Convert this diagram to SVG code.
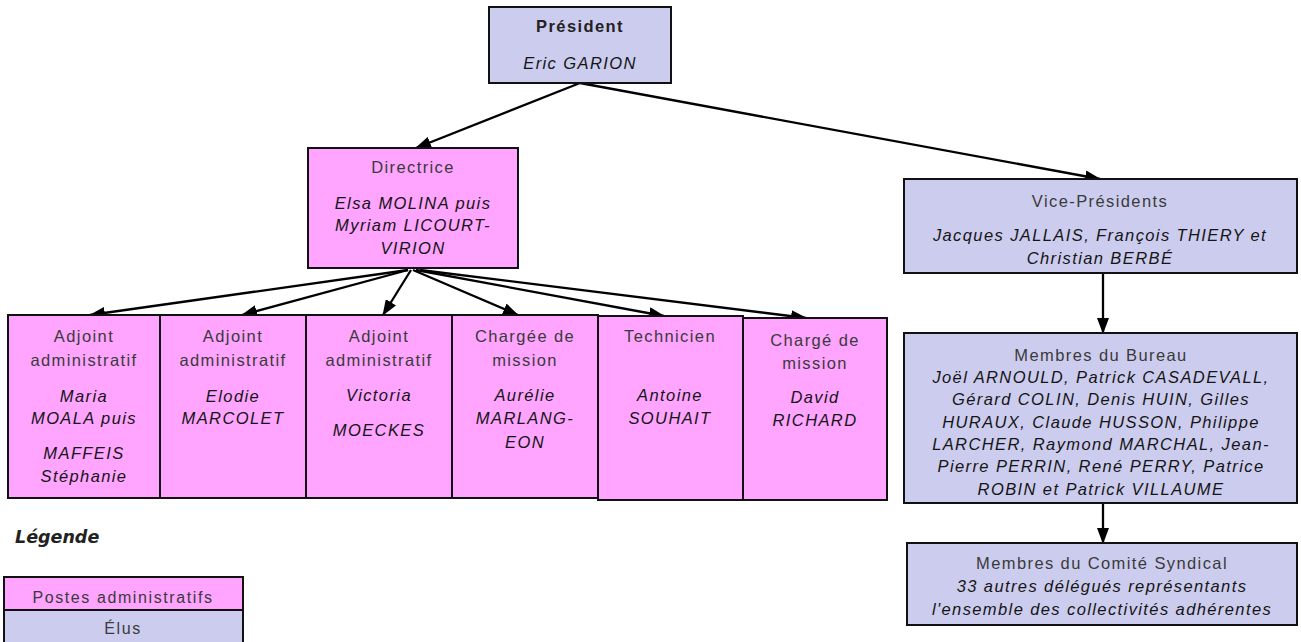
<svg xmlns="http://www.w3.org/2000/svg" width="1301" height="642" viewBox="0 0 1301 642">
<defs>
<marker id="ah" markerUnits="userSpaceOnUse" markerWidth="16" markerHeight="12" refX="15" refY="6" orient="auto">
<path d="M0,0 L16,6 L0,12 Z" fill="#000"/>
</marker>
<style>
.adm{fill:#ffa4ff;stroke:#111;stroke-width:2}
.elu{fill:#ccccee;stroke:#111;stroke-width:2}
.t{font-family:"Liberation Sans",Arial,sans-serif;font-size:16.5px;letter-spacing:1.4px;fill:#3a3a3a;text-anchor:middle}
.n{font-family:"Liberation Sans",Arial,sans-serif;font-size:16.5px;letter-spacing:1.4px;fill:#151515;font-style:italic;text-anchor:middle}
.b{font-weight:bold;fill:#222}
.c{stroke:#000;stroke-width:2.3;fill:none;marker-end:url(#ah)}
</style>
</defs>
<rect width="1301" height="642" fill="#fff"/>

<g id="connectors">
<line class="c" x1="580" y1="83" x2="416" y2="148"/>
<line class="c" x1="580" y1="83" x2="1100" y2="179"/>
<line class="c" x1="408" y1="270" x2="90" y2="315"/>
<line class="c" x1="408" y1="270" x2="242" y2="315"/>
<line class="c" x1="411" y1="270" x2="383" y2="315"/>
<line class="c" x1="413" y1="270" x2="518" y2="315"/>
<line class="c" x1="416" y1="270" x2="664" y2="316"/>
<line class="c" x1="420" y1="270" x2="806" y2="318"/>
<line class="c" x1="1103" y1="273" x2="1103" y2="333"/>
<line class="c" x1="1103" y1="503" x2="1103" y2="543"/>
</g>

<g id="president">
<rect class="elu" x="489" y="7" width="182" height="76"/>
<text class="t b" x="580" y="32">Président</text>
<text class="n" x="580" y="69">Eric GARION</text>
</g>

<g id="directrice">
<rect class="adm" x="308" y="148" width="210" height="120"/>
<text class="t" x="413" y="173">Directrice</text>
<text class="n" x="413" y="209">Elsa MOLINA puis</text>
<text class="n" x="413" y="231">Myriam LICOURT-</text>
<text class="n" x="413" y="254">VIRION</text>
</g>

<g id="adjoint1">
<rect class="adm" x="8" y="315" width="152" height="183"/>
<text class="t" x="84" y="342">Adjoint</text>
<text class="t" x="84" y="366">administratif</text>
<text class="n" x="84" y="402">Maria</text>
<text class="n" x="84" y="424">MOALA puis</text>
<text class="n" x="84" y="459">MAFFEIS</text>
<text class="n" x="84" y="482">Stéphanie</text>
</g>

<g id="adjoint2">
<rect class="adm" x="160" y="315" width="146" height="183"/>
<text class="t" x="233" y="342">Adjoint</text>
<text class="t" x="233" y="366">administratif</text>
<text class="n" x="233" y="402">Elodie</text>
<text class="n" x="233" y="424">MARCOLET</text>
</g>

<g id="adjoint3">
<rect class="adm" x="306" y="315" width="146" height="183"/>
<text class="t" x="379" y="342">Adjoint</text>
<text class="t" x="379" y="366">administratif</text>
<text class="n" x="379" y="401">Victoria</text>
<text class="n" x="379" y="436">MOECKES</text>
</g>

<g id="chargee">
<rect class="adm" x="452" y="315" width="146" height="183"/>
<text class="t" x="525" y="342">Chargée de</text>
<text class="t" x="525" y="366">mission</text>
<text class="n" x="525" y="401">Aurélie</text>
<text class="n" x="525" y="424">MARLANG-</text>
<text class="n" x="525" y="448">EON</text>
</g>

<g id="technicien">
<rect class="adm" x="598" y="316" width="145" height="184"/>
<text class="t" x="670" y="342">Technicien</text>
<text class="n" x="670" y="401">Antoine</text>
<text class="n" x="670" y="424">SOUHAIT</text>
</g>

<g id="charge">
<rect class="adm" x="743" y="318" width="144" height="182"/>
<text class="t" x="815" y="346">Chargé de</text>
<text class="t" x="815" y="369">mission</text>
<text class="n" x="815" y="403">David</text>
<text class="n" x="815" y="426">RICHARD</text>
</g>

<g id="vice-presidents">
<rect class="elu" x="904" y="179" width="393" height="94"/>
<text class="t" x="1100" y="207">Vice-Présidents</text>
<text class="n" x="1100" y="241">Jacques JALLAIS, François THIERY et</text>
<text class="n" x="1100" y="264">Christian BERBÉ</text>
</g>

<g id="bureau">
<rect class="elu" x="904" y="333" width="393" height="170"/>
<text class="t" x="1101" y="361">Membres du Bureau</text>
<text class="n" x="1101" y="383">Joël ARNOULD, Patrick CASADEVALL,</text>
<text class="n" x="1101" y="405">Gérard COLIN, Denis HUIN, Gilles</text>
<text class="n" x="1101" y="428">HURAUX, Claude HUSSON, Philippe</text>
<text class="n" x="1101" y="450">LARCHER, Raymond MARCHAL, Jean-</text>
<text class="n" x="1101" y="472">Pierre PERRIN, René PERRY, Patrice</text>
<text class="n" x="1101" y="495">ROBIN et Patrick VILLAUME</text>
</g>

<g id="comite">
<rect class="elu" x="907" y="543" width="390" height="82"/>
<text class="t" x="1102" y="569">Membres du Comité Syndical</text>
<text class="n" x="1102" y="592">33 autres délégués représentants</text>
<text class="n" x="1102" y="615">l'ensemble des collectivités adhérentes</text>
</g>

<g id="legende">
<text x="15" y="543" font-family="'DejaVu Sans',sans-serif" font-size="17.5px" font-weight="bold" font-style="italic" fill="#222">Légende</text>
<rect class="adm" x="4" y="577" width="239" height="33"/>
<rect class="elu" x="4" y="610" width="239" height="34"/>
<text class="t" x="123" y="603" style="font-size:16px;letter-spacing:1.6px">Postes administratifs</text>
<text class="t" x="123" y="634" style="font-size:16px;letter-spacing:1.6px">Élus</text>
</g>
</svg>
